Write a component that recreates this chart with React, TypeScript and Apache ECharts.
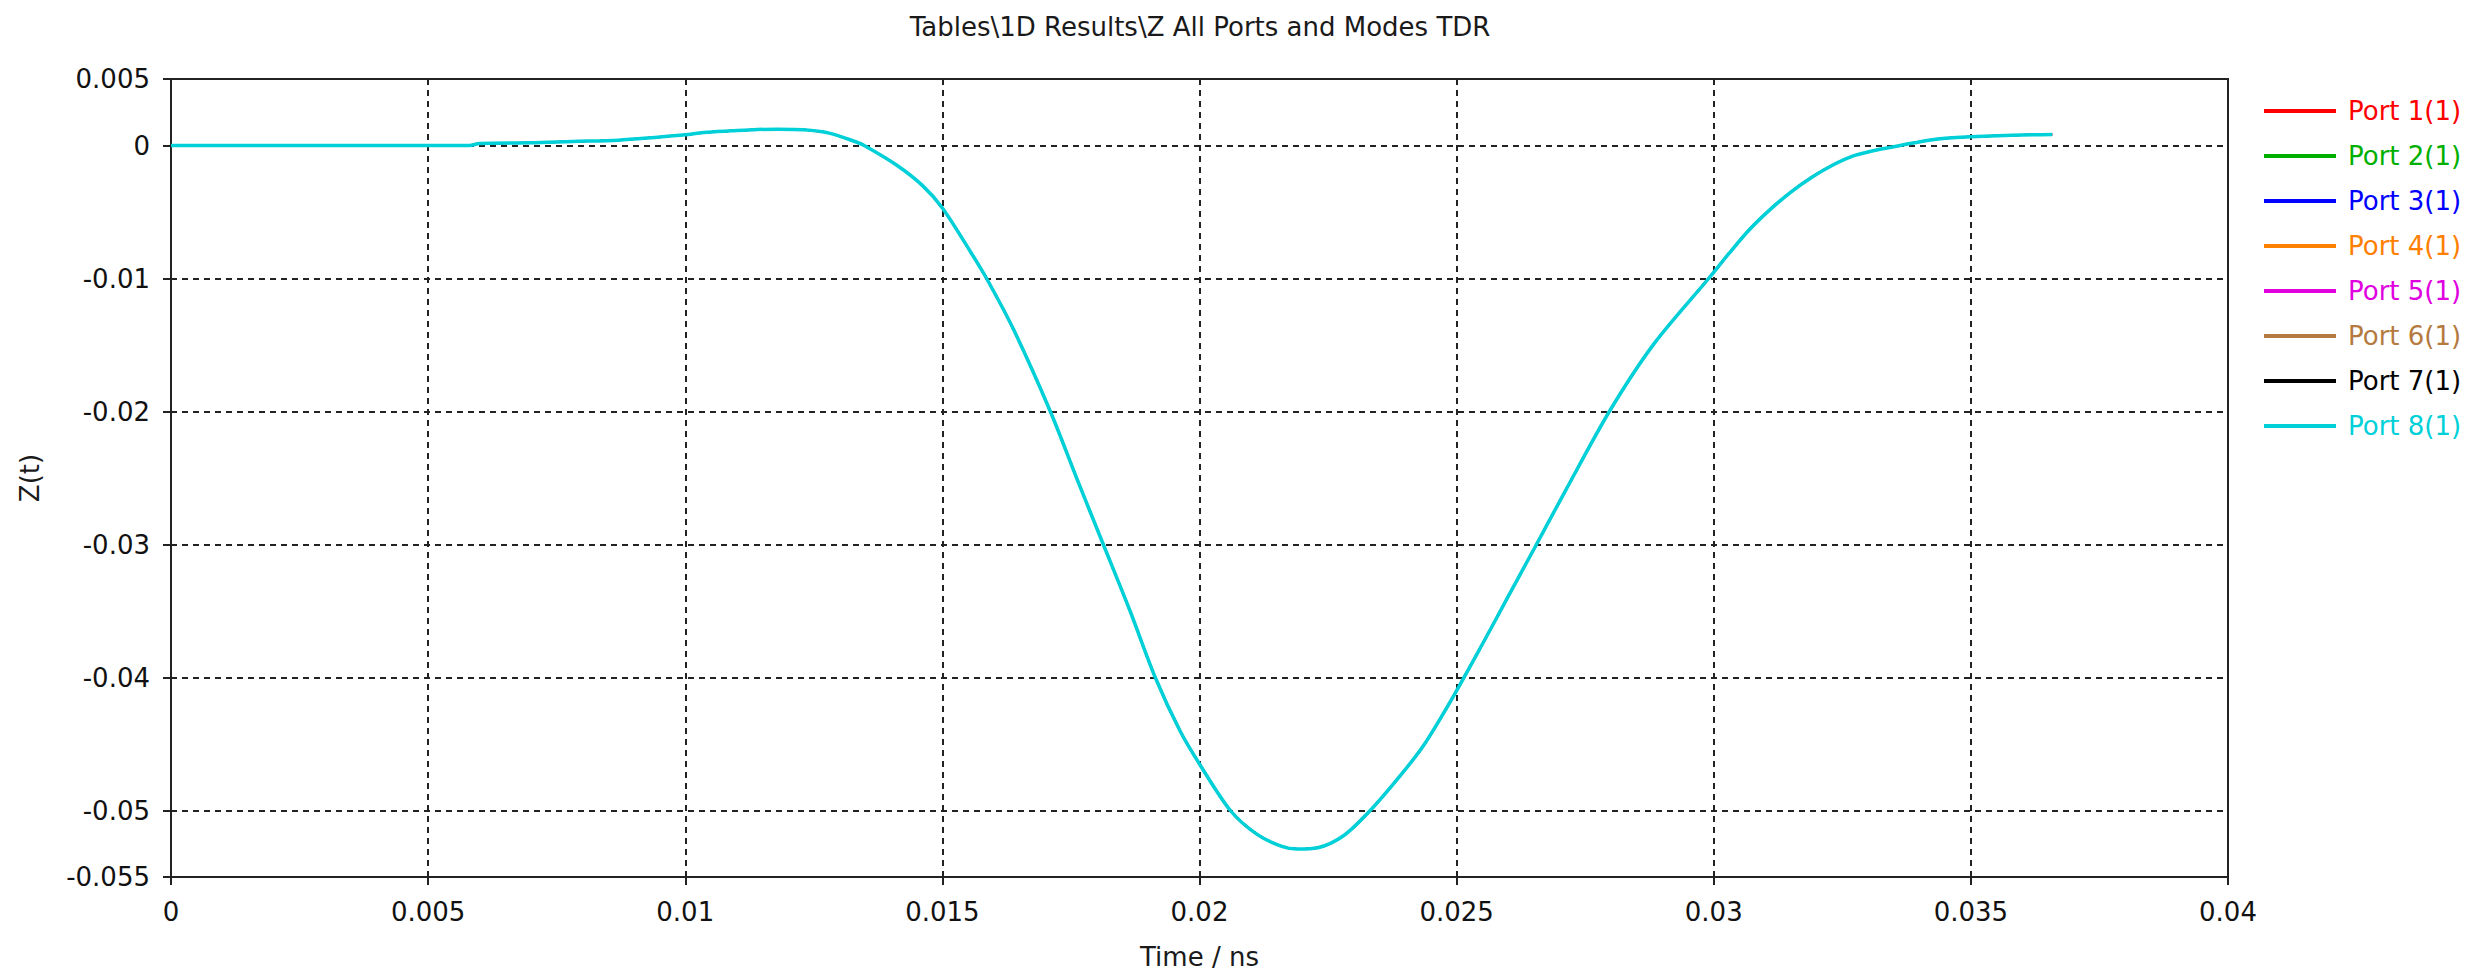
import React, { useEffect, useRef } from "react";
import * as echarts from "echarts";

// Time axis samples (ns) and the TDR impedance response Z(t)
const timeNs = [
  0, 0.0058, 0.006, 0.007, 0.0078, 0.0087, 0.0094, 0.01, 0.01036, 0.0109, 0.0114, 0.0118,
  0.0123, 0.0128, 0.0133, 0.01348, 0.0141, 0.01461, 0.015, 0.01554, 0.01586,
  0.01638, 0.0171, 0.01761, 0.01813, 0.01865, 0.01914, 0.01962, 0.02, 0.0206, 0.02112,
  0.0216, 0.0219, 0.0223, 0.0228, 0.02332, 0.0239, 0.02436, 0.02488, 0.0255, 0.02599,
  0.02651, 0.02711, 0.02797, 0.02884, 0.0299, 0.0303, 0.0307, 0.0311, 0.0315,
  0.0319, 0.0323, 0.0327, 0.0331, 0.0335, 0.0339, 0.0344, 0.035, 0.0358, 0.03658,
];
const zValues = [
  0, 0, 0.00015, 0.0002, 0.0003, 0.0004, 0.0006, 0.0008, 0.00098, 0.0011, 0.0012, 0.00122,
  0.00118, 0.00093, 0.0003, 0, -0.00145, -0.003, -0.0047, -0.00795, -0.01,
  -0.0138, -0.02, -0.025, -0.03, -0.035, -0.04, -0.044, -0.0465, -0.05, -0.0518,
  -0.0527, -0.0529, -0.0528, -0.0519, -0.05, -0.0474, -0.0451, -0.0418, -0.0375, -0.034,
  -0.0303, -0.026, -0.02, -0.0149, -0.01, -0.0081, -0.0063, -0.0048, -0.0035,
  -0.0024, -0.0015, -0.0008, -0.0004, -0.0001, 0.0002, 0.0005, 0.00066, 0.00078, 0.00083,
];

const portNames = [
  "Port 1(1)", "Port 2(1)", "Port 3(1)", "Port 4(1)",
  "Port 5(1)", "Port 6(1)", "Port 7(1)", "Port 8(1)",
];
const portColors = [
  "#ff0000", "#00b000", "#0000ff", "#ff8000",
  "#e000e0", "#b57a40", "#000000", "#00d0d8",
];

const xTickValues = [0, 0.005, 0.01, 0.015, 0.02, 0.025, 0.03, 0.035, 0.04];
const yTickValues = [-0.055, -0.05, -0.04, -0.03, -0.02, -0.01, 0, 0.005];

const titleText = "Tables\\1D Results\\Z All Ports and Modes TDR";
const FONT = "DejaVu Sans";

const fmt = (v: number) => String(Number(v.toFixed(4)));

export default function App() {
  const ref = useRef<HTMLDivElement>(null);

  useEffect(() => {
    if (!ref.current) return;
    const chart = echarts.init(ref.current, null, { renderer: "svg" });
    const points = timeNs.map((t, i) => [t, zValues[i]]);
    const gridLine = { show: true, lineStyle: { color: "#222", width: 2, type: [6, 5] as number[] } };
    const last = portNames.length - 1;

    chart.setOption({
      animation: false,
      backgroundColor: "#ffffff",
      textStyle: { fontFamily: FONT },
      graphic: [
        {
          type: "text",
          x: 1200,
          y: 27,
          style: {
            text: titleText,
            textAlign: "center",
            textVerticalAlign: "middle",
            fontFamily: FONT,
            fontSize: 26,
            fill: "#1a1a1a",
          },
        },
      ],
      grid: {
        left: 171,
        right: 243,
        top: 79,
        bottom: 102,
        show: true,
        borderColor: "#222",
        borderWidth: 2,
      },
      legend: {
        orient: "vertical",
        left: 2259,
        top: 91,
        icon: "rect",
        itemWidth: 72,
        itemHeight: 4,
        itemGap: 15,
        textStyle: { fontFamily: FONT, fontSize: 26, lineHeight: 30, padding: [0, 0, 0, 7] },
        data: portNames.map((n, i) => ({ name: n, textStyle: { color: portColors[i] } })),
      },
      xAxis: {
        type: "value",
        min: 0,
        max: 0.04,
        interval: 0.005,
        name: "Time / ns",
        nameLocation: "middle",
        nameGap: 67,
        nameTextStyle: { fontFamily: FONT, fontSize: 26, color: "#1a1a1a" },
        axisLine: { show: true, onZero: false, lineStyle: { color: "#222", width: 2 } },
        axisTick: { show: true, length: 8, lineStyle: { color: "#222", width: 2 }, customValues: xTickValues },
        axisLabel: {
          margin: 22,
          fontFamily: FONT,
          fontSize: 26,
          color: "#111",
          customValues: xTickValues,
          formatter: (v: number) => fmt(v),
        },
        splitLine: gridLine,
      },
      yAxis: {
        type: "value",
        min: -0.055,
        max: 0.005,
        name: "Z(t)",
        nameLocation: "middle",
        nameGap: 128,
        nameTextStyle: { fontFamily: FONT, fontSize: 26, color: "#1a1a1a" },
        axisLine: { show: true, onZero: false, lineStyle: { color: "#222", width: 2 } },
        axisTick: { show: true, length: 8, lineStyle: { color: "#222", width: 2 }, customValues: yTickValues },
        axisLabel: {
          margin: 21,
          fontFamily: FONT,
          fontSize: 26,
          color: "#111",
          customValues: yTickValues,
          formatter: (v: number) => fmt(v),
        },
        splitLine: gridLine,
      },
      series: portNames.map((name, i) => ({
        type: "line",
        name,
        data: points,
        symbol: "none",
        showSymbol: false,
        smooth: 0.3,
        z: 2 + i,
        // the identical traces underneath are kept thinner so the last one covers them cleanly
        lineStyle: { color: portColors[i], width: i === last ? 3.5 : 2 },
        itemStyle: { color: portColors[i] },
      })),
    });

    return () => chart.dispose();
  }, []);

  return (
    <div
      ref={ref}
      style={{ position: "fixed", left: 0, top: 0, width: 2471, height: 979, background: "#fff" }}
    />
  );
}
